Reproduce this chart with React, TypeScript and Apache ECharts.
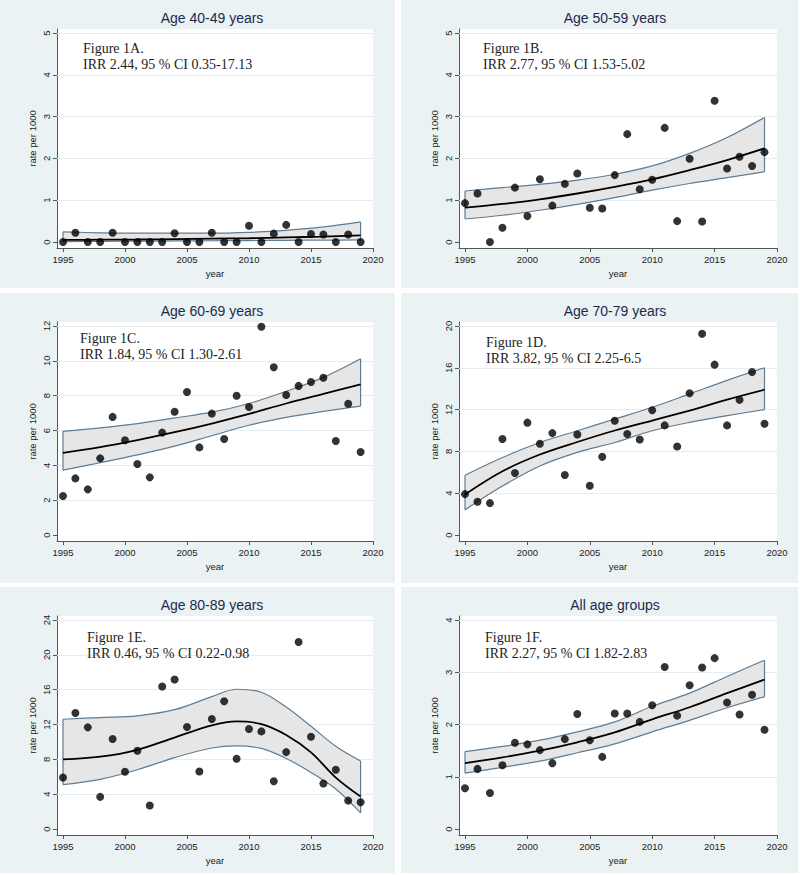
import React, { useEffect, useRef } from "react";
import * as echarts from "echarts";

// ---------- data ----------
const YEARS = [1995, 1996, 1997, 1998, 1999, 2000, 2001, 2002, 2003, 2004, 2005, 2006, 2007, 2008, 2009, 2010, 2011, 2012, 2013, 2014, 2015, 2016, 2017, 2018, 2019];
const X_TICKS = [1995, 2000, 2005, 2010, 2015, 2020];

const TITLES = ["Age 40-49 years", "Age 50-59 years", "Age 60-69 years", "Age 70-79 years", "Age 80-89 years", "All age groups"];
const FIGURE_LABELS = ["Figure 1A.", "Figure 1B.", "Figure 1C.", "Figure 1D.", "Figure 1E.", "Figure 1F."];
const IRR_LABELS = [
  "IRR 2.44, 95 % CI 0.35-17.13",
  "IRR 2.77, 95 % CI 1.53-5.02",
  "IRR 1.84, 95 % CI 1.30-2.61",
  "IRR 3.82, 95 % CI 2.25-6.5",
  "IRR 0.46, 95 % CI 0.22-0.98",
  "IRR 2.27, 95 % CI 1.82-2.83",
];

const Y_TICKS_40_49 = [0, 1, 2, 3, 4, 5];
const Y_TICKS_50_59 = [0, 1, 2, 3, 4, 5];
const Y_TICKS_60_69 = [0, 2, 4, 6, 8, 10, 12];
const Y_TICKS_70_79 = [0, 4, 8, 12, 16, 20];
const Y_TICKS_80_89 = [0, 4, 8, 12, 16, 20, 24];
const Y_TICKS_ALL = [0, 1, 2, 3, 4];

const RATE_40_49 = [0, 0.22, 0, 0, 0.22, 0, 0, 0, 0, 0.21, 0, 0, 0.22, 0, 0, 0.39, 0, 0.2, 0.41, 0, 0.19, 0.18, 0, 0.18, 0];
const RATE_50_59 = [0.93, 1.16, 0, 0.34, 1.3, 0.62, 1.5, 0.87, 1.39, 1.64, 0.82, 0.8, 1.6, 2.58, 1.26, 1.49, 2.73, 0.5, 1.99, 0.49, 3.38, 1.76, 2.04, 1.82, 2.15];
const RATE_60_69 = [2.24, 3.25, 2.62, 4.4, 6.78, 5.44, 4.08, 3.31, 5.88, 7.08, 8.21, 5.03, 6.97, 5.51, 8.0, 7.35, 11.96, 9.63, 8.04, 8.56, 8.78, 9.03, 5.4, 7.54, 4.77];
const RATE_70_79 = [3.91, 3.18, 3.05, 9.18, 5.94, 10.75, 8.73, 9.75, 5.74, 9.62, 4.72, 7.48, 10.94, 9.66, 9.14, 11.93, 10.49, 8.47, 13.57, 19.25, 16.3, 10.49, 12.93, 15.59, 10.65];
const RATE_80_89 = [5.91, 13.33, 11.67, 3.69, 10.33, 6.57, 8.99, 2.69, 16.36, 17.17, 11.71, 6.61, 12.63, 14.67, 8.06, 11.48, 11.21, 5.49, 8.83, 21.47, 10.6, 5.22, 6.8, 3.26, 3.07];
const RATE_ALL = [0.78, 1.15, 0.69, 1.22, 1.65, 1.62, 1.51, 1.26, 1.72, 2.2, 1.7, 1.38, 2.21, 2.21, 2.05, 2.37, 3.1, 2.17, 2.75, 3.09, 3.27, 2.42, 2.19, 2.57, 1.9];

const CURVE_YEARS = [1995, 1998, 2001, 2004, 2007, 2010, 2013, 2016, 2019];
const CURVE_YEARS_80_89 = [1995, 1998, 2001, 2004, 2007, 2009, 2011, 2013, 2015, 2017, 2019];

const FIT_40_49 = [0.05, 0.055, 0.06, 0.07, 0.08, 0.09, 0.11, 0.13, 0.16];
const UPPER_40_49 = [0.24, 0.22, 0.21, 0.21, 0.21, 0.23, 0.28, 0.36, 0.48];
const LOWER_40_49 = [0.01, 0.015, 0.02, 0.025, 0.03, 0.035, 0.04, 0.045, 0.05];

const FIT_50_59 = [0.82, 0.91, 1.02, 1.16, 1.32, 1.5, 1.72, 1.96, 2.24];
const UPPER_50_59 = [1.22, 1.3, 1.38, 1.48, 1.62, 1.82, 2.12, 2.5, 2.98];
const LOWER_50_59 = [0.55, 0.64, 0.76, 0.9, 1.06, 1.24, 1.4, 1.54, 1.68];

const FIT_60_69 = [4.72, 5.05, 5.45, 5.9, 6.4, 6.95, 7.55, 8.1, 8.65];
const UPPER_60_69 = [5.95, 6.15, 6.4, 6.72, 7.05, 7.55, 8.25, 9.05, 10.12];
const LOWER_60_69 = [3.72, 4.15, 4.6, 5.1, 5.7, 6.3, 6.75, 7.1, 7.4];

const FIT_70_79 = [3.88, 6.1, 7.7, 8.9, 10.0, 10.95, 11.9, 12.95, 13.9];
const UPPER_70_79 = [5.71, 7.41, 8.85, 9.98, 11.1, 12.22, 13.5, 14.8, 16.0];
const LOWER_70_79 = [2.41, 4.68, 6.6, 7.9, 8.85, 9.98, 10.78, 11.42, 12.0];

const FIT_80_89 = [7.99, 8.3, 9.1, 10.5, 11.9, 12.35, 12.05, 10.8, 8.8, 5.9, 3.72];
const UPPER_80_89 = [12.6, 12.8, 13.0, 13.7, 15.2, 16.05, 15.7, 14.0, 11.8, 9.5, 7.8];
const LOWER_80_89 = [5.1, 5.7, 6.8, 8.2, 9.3, 9.55, 9.25, 8.1, 6.5, 4.6, 1.85];

const FIT_ALL = [1.26, 1.37, 1.5, 1.66, 1.85, 2.1, 2.33, 2.6, 2.86];
const UPPER_ALL = [1.48, 1.58, 1.7, 1.86, 2.05, 2.35, 2.6, 2.92, 3.23];
const LOWER_ALL = [1.07, 1.18, 1.3, 1.46, 1.63, 1.86, 2.08, 2.32, 2.53];

// ---------- layout / style ----------
const COLS = [
  { bgX: 0, bgW: 395, axisX: 57, x2020: 373 },
  { bgX: 401, bgW: 397, axisX: 459, x2020: 777 },
];
const ROWS = [
  { bgY: 0, bgH: 288 },
  { bgY: 293, bgH: 290 },
  { bgY: 587, bgH: 286 },
];
const ANNOT_OFFSETS = [
  [26, 40],
  [24, 40],
  [23, 37],
  [27, 41],
  [30, 42],
  [26, 42],
];

const PANEL_BG = "#EAF2F3";
const BAND_FILL = "#E6E6E6";
const BAND_EDGE = "#5E7C94";
const AXIS_COLOR = "#555";
const TEXT_COLOR = "#222";
const TITLE_COLOR = "#1d2a4f";
const SANS = "Liberation Sans, Arial, sans-serif";
const SERIF = "Liberation Serif, Times New Roman, serif";

const PANELS = [
  { yTicks: Y_TICKS_40_49, rates: RATE_40_49, cy: CURVE_YEARS, fit: FIT_40_49, up: UPPER_40_49, lo: LOWER_40_49 },
  { yTicks: Y_TICKS_50_59, rates: RATE_50_59, cy: CURVE_YEARS, fit: FIT_50_59, up: UPPER_50_59, lo: LOWER_50_59 },
  { yTicks: Y_TICKS_60_69, rates: RATE_60_69, cy: CURVE_YEARS, fit: FIT_60_69, up: UPPER_60_69, lo: LOWER_60_69 },
  { yTicks: Y_TICKS_70_79, rates: RATE_70_79, cy: CURVE_YEARS, fit: FIT_70_79, up: UPPER_70_79, lo: LOWER_70_79 },
  { yTicks: Y_TICKS_80_89, rates: RATE_80_89, cy: CURVE_YEARS_80_89, fit: FIT_80_89, up: UPPER_80_89, lo: LOWER_80_89 },
  { yTicks: Y_TICKS_ALL, rates: RATE_ALL, cy: CURVE_YEARS, fit: FIT_ALL, up: UPPER_ALL, lo: LOWER_ALL },
];

const pairs = (xs: number[], ys: number[]) => xs.map((x, k) => [x, ys[k]]);
// value first, year second: the stacked dimension must be the first numeric one
const pairsYX = (xs: number[], ys: number[]) => xs.map((x, k) => [ys[k], x]);

function buildOption() {
  const grids: any[] = [];
  const xAxes: any[] = [];
  const yAxes: any[] = [];
  const series: any[] = [];
  const titles: any[] = [];
  const graphics: any[] = [];

  PANELS.forEach((p, i) => {
    const col = COLS[i % 2];
    const row = ROWS[Math.floor(i / 2)];
    const top = row.bgY;
    const gridW = col.x2020 - col.axisX;
    const yMax = p.yTicks[p.yTicks.length - 1];
    const pxPerUnit = 209 / yMax;

    graphics.push({
      type: "rect",
      z: -10,
      silent: true,
      shape: { x: col.bgX, y: row.bgY, width: col.bgW, height: row.bgH },
      style: { fill: PANEL_BG },
    });

    grids.push({
      left: col.axisX,
      top: top + 29,
      width: gridW,
      height: 219,
      show: true,
      backgroundColor: "#ffffff",
      borderWidth: 0,
    });

    xAxes.push({
      type: "value",
      gridIndex: i,
      min: 1995 - (6 * 25) / (gridW - 6),
      max: 2020,
      name: "year",
      nameLocation: "middle",
      nameGap: 20,
      nameTextStyle: { fontSize: 9.5, color: TEXT_COLOR, fontFamily: SANS },
      axisLine: { show: true, onZero: false, lineStyle: { color: AXIS_COLOR, width: 1 } },
      axisTick: { show: true, length: 4, customValues: X_TICKS, lineStyle: { color: AXIS_COLOR } },
      axisLabel: {
        customValues: X_TICKS,
        fontSize: 9.5,
        color: TEXT_COLOR,
        fontFamily: SANS,
        margin: 6,
        formatter: (v: number) => String(v),
      },
      splitLine: { show: false },
    });

    yAxes.push({
      type: "value",
      gridIndex: i,
      min: -6 / pxPerUnit,
      max: yMax + 4 / pxPerUnit,
      name: "rate per 1000",
      nameLocation: "middle",
      nameGap: 20,
      nameTextStyle: { fontSize: 9.5, color: TEXT_COLOR, fontFamily: SANS },
      axisLine: { show: true, onZero: false, lineStyle: { color: AXIS_COLOR, width: 1 } },
      axisTick: { show: true, length: 4, customValues: p.yTicks, lineStyle: { color: AXIS_COLOR } },
      axisLabel: {
        customValues: p.yTicks,
        rotate: 90,
        fontSize: 9.5,
        color: TEXT_COLOR,
        fontFamily: SANS,
        margin: 6,
        formatter: (v: number) => String(v),
      },
      splitLine: { show: false },
    });

    titles.push({
      text: TITLES[i],
      left: (col.axisX + col.x2020) / 2 - 3,
      top: top + 11,
      textAlign: "center",
      padding: 0,
      textStyle: { fontSize: 14, fontWeight: "normal", color: TITLE_COLOR, fontFamily: SANS },
    });

    const [ox, oy] = ANNOT_OFFSETS[i];
    graphics.push({
      type: "text",
      z: 10,
      left: col.axisX + ox,
      top: top + oy,
      style: {
        text: FIGURE_LABELS[i] + "\n" + IRR_LABELS[i],
        fontFamily: SERIF,
        fontSize: 14,
        lineHeight: 16.5,
        fill: TEXT_COLOR,
      },
    });

    const common = { xAxisIndex: i, yAxisIndex: i, silent: true, animation: false };
    const smooth = 0.35;
    const last = p.cy.length - 1;

    // faint horizontal gridlines (under the band)
    series.push({
      ...common,
      type: "line",
      data: [],
      z: 1,
      markLine: {
        silent: true,
        symbol: "none",
        z: 1,
        label: { show: false },
        lineStyle: { color: "#E4ECEF", width: 1, type: "solid" },
        data: p.yTicks.filter((t) => t > 0).map((t) => ({ yAxis: t })),
      },
    });

    // band base (lower bound, invisible) + band fill stacked on it
    series.push({
      ...common,
      type: "line",
      stack: "ci" + i,
      encode: { x: 1, y: 0 },
      data: pairsYX(p.cy, p.lo),
      symbol: "none",
      smooth,
      lineStyle: { opacity: 0, width: 0 },
      z: 2,
    });
    series.push({
      ...common,
      type: "line",
      stack: "ci" + i,
      encode: { x: 1, y: 0 },
      data: pairsYX(p.cy, p.up.map((u, k) => u - p.lo[k])),
      symbol: "none",
      smooth,
      lineStyle: { opacity: 0, width: 0 },
      areaStyle: { color: BAND_FILL, opacity: 1 },
      z: 2,
    });
    // band outlines
    [p.up, p.lo].forEach((arr) => {
      series.push({
        ...common,
        type: "line",
        data: pairs(p.cy, arr),
        symbol: "none",
        smooth,
        lineStyle: { color: BAND_EDGE, width: 1.2 },
        z: 3,
      });
    });
    [0, last].forEach((k) => {
      series.push({
        ...common,
        type: "line",
        data: [
          [p.cy[k], p.lo[k]],
          [p.cy[k], p.up[k]],
        ],
        symbol: "none",
        lineStyle: { color: BAND_EDGE, width: 1.2 },
        z: 3,
      });
    });
    // fitted line
    series.push({
      ...common,
      type: "line",
      data: pairs(p.cy, p.fit),
      symbol: "none",
      smooth,
      lineStyle: { color: "#000", width: 1.8 },
      z: 4,
    });
    // observed rates
    series.push({
      ...common,
      type: "scatter",
      data: pairs(YEARS, p.rates),
      symbol: "circle",
      symbolSize: 8,
      itemStyle: { color: "#000" },
      z: 5,
    });
  });

  return {
    animation: false,
    backgroundColor: "#ffffff",
    textStyle: { fontFamily: SANS },
    title: titles,
    grid: grids,
    xAxis: xAxes,
    yAxis: yAxes,
    series,
    graphic: { elements: graphics },
  };
}

export default function App() {
  const ref = useRef<HTMLDivElement>(null);
  useEffect(() => {
    if (!ref.current) return;
    const chart = echarts.init(ref.current, null, { renderer: "svg" });
    chart.setOption(buildOption() as any);
    return () => chart.dispose();
  }, []);
  return (
    <div
      ref={ref}
      style={{ position: "absolute", left: 0, top: 0, width: 800, height: 875 }}
    />
  );
}
